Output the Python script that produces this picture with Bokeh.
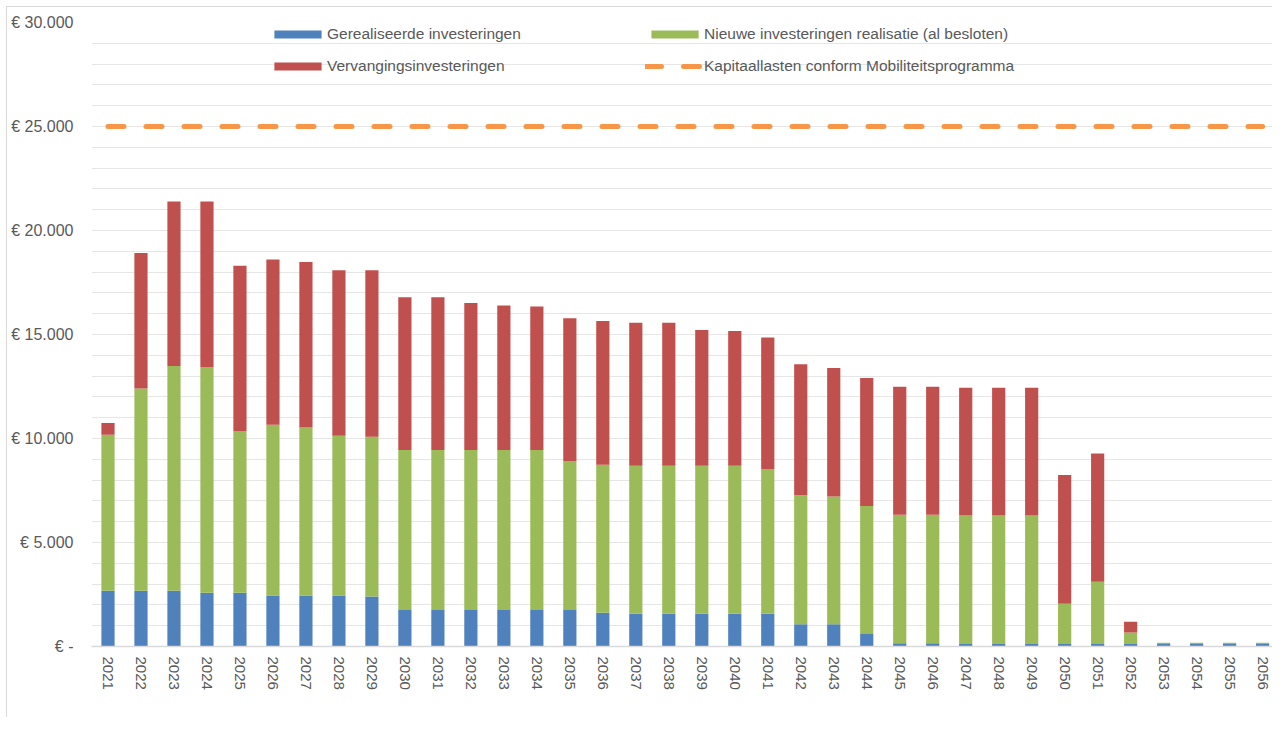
from bokeh.plotting import figure
from bokeh.models import (Range1d, FixedTicker, Legend, LegendItem,
                          ColumnDataSource)
from bokeh.embed import file_html
from bokeh.resources import INLINE

# ---------------- data ----------------
years = [str(y) for y in range(2021, 2057)]

gerealiseerd = [2680, 2680, 2680, 2580, 2580, 2450, 2450, 2450, 2400, 1750,
                1750, 1750, 1750, 1750, 1750, 1620, 1570, 1570, 1570, 1570,
                1570, 1070, 1070, 600, 160, 160, 115, 115, 115, 115,
                115, 115, 115, 115, 115, 115]

nieuw = [7500, 9720, 10810, 10860, 7780, 8210, 8080, 7680, 7690, 7700,
         7700, 7700, 7700, 7700, 7170, 7120, 7120, 7120, 7120, 7120,
         6960, 6200, 6140, 6150, 6180, 6180, 6180, 6180, 6180, 1940,
         3000, 560, 60, 60, 60, 60]

vervanging = [570, 6520, 7900, 7950, 7940, 7940, 7960, 7960, 8000, 7340,
              7340, 7070, 6940, 6900, 6860, 6910, 6870, 6870, 6530, 6480,
              6330, 6300, 6180, 6160, 6150, 6150, 6140, 6140, 6140, 6190,
              6160, 520, 0, 0, 0, 0]

kapitaallasten = [25000] * len(years)

series_labels = ["Gerealiseerde investeringen",
                 "Nieuwe investeringen realisatie (al besloten)",
                 "Vervangingsinvesteringen",
                 "Kapitaallasten conform Mobiliteitsprogramma"]

y_ticks = [0, 5000, 10000, 15000, 20000, 25000, 30000]
y_tick_labels = ["€ -", "€ 5.000", "€ 10.000", "€ 15.000", "€ 20.000",
                 "€ 25.000", "€ 30.000"]
grid_ticks = list(range(1000, 30000, 1000))

# category positions (one slot per year)
x_pos = list(range(len(years)))

# ---------------- styling ----------------
FONT = "Liberation Sans"
TXT = "#595959"
C_BLUE = "#4F81BD"
C_GREEN = "#9BBB59"
C_RED = "#C0504D"
C_ORANGE = "#F79646"

source = ColumnDataSource(dict(x=x_pos, year=years, gerealiseerd=gerealiseerd,
                               nieuw=nieuw, vervanging=vervanging,
                               kapitaal=kapitaallasten))

p = figure(x_range=Range1d(-0.5, 35.30),
           y_range=Range1d(0, 30000),
           width=1272, height=717,
           output_backend="svg", toolbar_location=None,
           min_border_left=91, min_border_right=0,
           min_border_top=22, min_border_bottom=71)
p.outline_line_color = None
p.background_fill_color = "white"
p.border_fill_color = None
# thin light-grey chart-area border (left / top), drawn by the page behind the canvas
p.styles = {"background": "white",
            "box-shadow": "inset 6px 6px 0 0 white, inset 7px 7px 0 0 #d9d9d9"}

bars = p.vbar_stack(["gerealiseerd", "nieuw", "vervanging"], x="x",
                    width=0.40, color=[C_BLUE, C_GREEN, C_RED],
                    line_color=None, source=source)

line = p.line(x="x", y="kapitaal", source=source, line_color=C_ORANGE,
              line_width=5, line_dash="16 22", line_cap="round")

# axes
p.yaxis.ticker = FixedTicker(ticks=y_ticks)
p.yaxis.major_label_overrides = {t: l for t, l in zip(y_ticks, y_tick_labels)}
p.yaxis.axis_line_color = None
p.yaxis.major_tick_line_color = None
p.yaxis.minor_tick_line_color = None
p.yaxis.major_tick_out = 0
p.yaxis.major_label_standoff = 18
p.yaxis.major_label_text_font = FONT
p.yaxis.major_label_text_font_size = "16px"
p.yaxis.major_label_text_color = TXT

p.xaxis.ticker = FixedTicker(ticks=x_pos)
p.xaxis.major_label_overrides = {i: y for i, y in zip(x_pos, years)}
p.xaxis.axis_line_color = "#d9d9d9"
p.xaxis.axis_line_width = 1.5
p.xaxis.major_tick_line_color = None
p.xaxis.minor_tick_line_color = None
p.xaxis.major_tick_out = 0
p.xaxis.major_label_orientation = "vertical"
p.xaxis.major_label_standoff = 10
p.xaxis.major_label_text_font = FONT
p.xaxis.major_label_text_font_size = "15px"
p.xaxis.major_label_text_color = TXT

p.xgrid.grid_line_color = None
p.ygrid.ticker = FixedTicker(ticks=grid_ticks)
p.ygrid.grid_line_color = "#e6e6e6"
p.ygrid.grid_line_width = 1

legend = Legend(items=[LegendItem(label=series_labels[0], renderers=[bars[0]]),
                       LegendItem(label=series_labels[1], renderers=[bars[1]]),
                       LegendItem(label=series_labels[2], renderers=[bars[2]]),
                       LegendItem(label=series_labels[3], renderers=[line])],
                location=(177, 570), orientation="horizontal", ncols=2,
                glyph_width=59, glyph_height=10, label_standoff=0,
                label_width=306, label_height=20, spacing=12,
                padding=0, margin=0, border_line_color=None,
                background_fill_alpha=0,
                label_text_font=FONT, label_text_font_size="15.5px",
                label_text_color=TXT)
p.add_layout(legend)

open("out.html", "w").write(file_html(p, INLINE))
